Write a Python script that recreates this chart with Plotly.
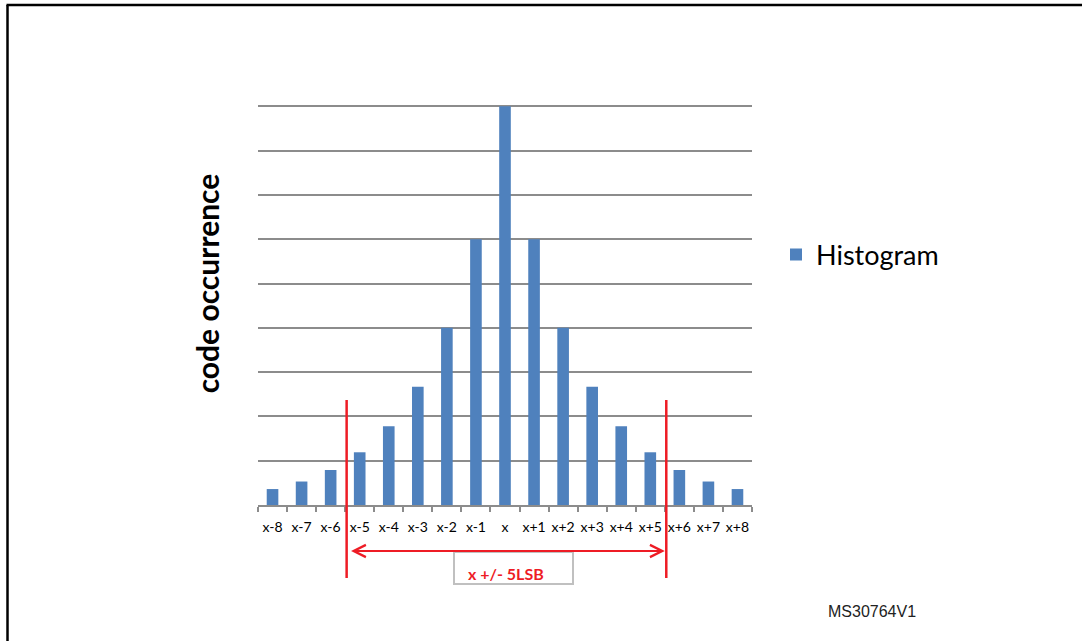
import plotly.graph_objects as go

categories = ["x-8", "x-7", "x-6", "x-5", "x-4", "x-3", "x-2", "x-1", "x",
              "x+1", "x+2", "x+3", "x+4", "x+5", "x+6", "x+7", "x+8"]
occurrence = [0.36, 0.53, 0.79, 1.19, 1.78, 2.67, 4.0, 6.0, 9.0,
              6.0, 4.0, 2.67, 1.78, 1.19, 0.79, 0.53, 0.36]
series_name = "Histogram"
y_title = "code occurrence"
window_label = "x +/- 5LSB"
window_left = 2.55
window_right = 13.55
figure_id = "MS30764V1"

W, H = 1082, 641
ML, MR, MT, MB = 258, 330, 62, 136
PW, PH = W - ML - MR, H - MT - MB


def px(xp):
    return (xp - ML) / PW


def py(yp):
    return (H - MB - yp) / PH


fig = go.Figure()
fig.add_trace(go.Bar(x=categories, y=occurrence, name=series_name,
                     marker=dict(color="#4f81bd", line=dict(width=0)),
                     showlegend=True))

red = "#ee1c25"
for xv in (window_left, window_right):
    fig.add_shape(type="line", xref="x", yref="paper", x0=xv, x1=xv,
                  y0=py(400), y1=py(578), line=dict(color=red, width=2.5))
fig.add_annotation(x=window_right - 0.05, y=py(551), xref="x", yref="paper",
                   ax=window_left + 0.1, ay=0, axref="x", ayref="pixel",
                   showarrow=True, arrowhead=5, arrowside="end+start",
                   arrowcolor=red, arrowwidth=2, arrowsize=1.2, text="")
fig.add_shape(type="rect", xref="paper", yref="paper", x0=px(454), x1=px(573),
              y0=py(552), y1=py(584), line=dict(color="#c0c0c0", width=2),
              fillcolor="white")
fig.add_annotation(x=px(506), y=py(573), xref="paper", yref="paper",
                   xanchor="center", yanchor="middle",
                   text="<b>" + window_label + "</b>", showarrow=False,
                   font=dict(family="Lato, Open Sans, sans-serif", size=16, color=red))
fig.add_annotation(x=px(872), y=py(611), xref="paper", yref="paper",
                   xanchor="center", yanchor="middle",
                   text=figure_id, showarrow=False,
                   font=dict(family="Liberation Sans, Arial", size=16, color="#222"))
# border (top and left)
fig.add_shape(type="line", xref="paper", yref="paper",
              x0=px(6.5), x1=px(W + 2), y0=py(5), y1=py(5),
              line=dict(color="black", width=2.5))
fig.add_shape(type="line", xref="paper", yref="paper",
              x0=px(7.5), x1=px(7.5), y0=py(5), y1=py(H + 2),
              line=dict(color="black", width=2.5))

fig.update_layout(
    width=W, height=H,
    margin=dict(l=ML, r=MR, t=MT, b=MB, autoexpand=False),
    paper_bgcolor="white", plot_bgcolor="white",
    bargap=0.6,
    font=dict(family="Lato, Open Sans, sans-serif", color="black"),
    legend=dict(x=px(776), y=py(255), xanchor="left", yanchor="middle",
                font=dict(size=27, color="black"), itemwidth=30,
                bgcolor="rgba(0,0,0,0)"),
    xaxis=dict(type="category", showgrid=False, showline=True, automargin=False,
               linecolor="#8c8c8c", linewidth=2, ticks="outside", tickangle=0,
               tickson="boundaries", ticklen=5, tickcolor="#8c8c8c", tickwidth=1.5,
               ticklabelstandoff=8,
               tickfont=dict(size=14, color="black"), fixedrange=True),
    yaxis=dict(range=[0, 10], dtick=1, showgrid=True, gridcolor="#8c8c8c",
               gridwidth=2, showticklabels=False, zeroline=False, showline=False,
               automargin=False, fixedrange=True,
               title=dict(text="<b>" + y_title + "</b>", standoff=28,
                          font=dict(size=30, color="black"))),
)

fig.write_html("out.html", config={"displayModeBar": False},
               post_script="document.body.style.margin='0';")
